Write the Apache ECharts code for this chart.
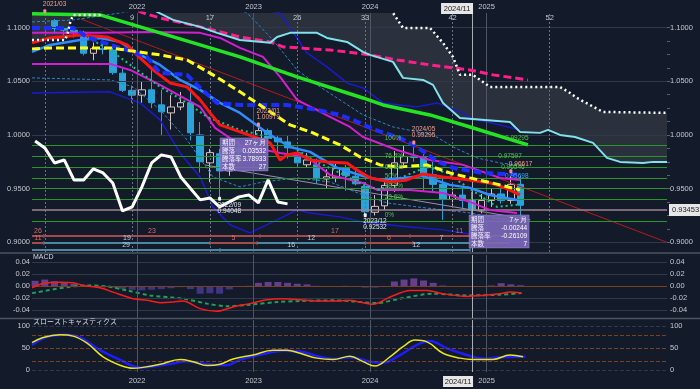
<!DOCTYPE html>
<html>
<head>
<meta charset="utf-8">
<script src="https://cdn.jsdelivr.net/npm/echarts@6.0.0/dist/echarts.min.js"></script>
<style>
html,body{margin:0;padding:0;background:#131a29;overflow:hidden}
#chart{width:700px;height:389px}
</style>
</head>
<body>
<div id="chart"></div>
<script>
// ================= DATA =================
// month index: 0 = 2021-01
const candleMonths = ['2021-04','2021-05','2021-06','2021-07','2021-08','2021-09','2021-10','2021-11','2021-12',
 '2022-01','2022-02','2022-03','2022-04','2022-05','2022-06','2022-07','2022-08','2022-09','2022-10','2022-11','2022-12',
 '2023-01','2023-02','2023-03','2023-04','2023-05','2023-06','2023-07','2023-08','2023-09','2023-10','2023-11','2023-12',
 '2024-01','2024-02','2024-03','2024-04','2024-05','2024-06','2024-07','2024-08','2024-09','2024-10','2024-11','2024-12',
 '2025-01','2025-02','2025-03','2025-04'];
const opens = [1.1065,1.0990,1.0975,1.0955,1.0760,1.0805,1.0790,1.0575,1.0415,
 1.0370,1.0420,1.0280,1.0205,1.0260,1.0300,1.0000,0.9740,0.9825,0.9665,0.9880,0.9840,
 0.9870,1.0040,0.9970,0.9935,0.9835,0.9722,0.9722,0.9590,0.9600,0.9690,0.9615,0.9520,
 0.9280,0.9340,0.9530,0.9740,0.9800,0.9790,0.9630,0.9540,0.9400,0.9440,0.9390,0.9300,
 0.9390,0.9450,0.9390,0.9540];
const highs = [1.1080,1.1010,1.1000,1.0970,1.0860,1.0880,1.0830,1.0620,1.0460,
 1.0500,1.0610,1.0420,1.0370,1.0400,1.0470,1.0120,0.9870,0.9870,0.9930,0.9950,0.9950,
 1.0098,1.0060,1.0000,0.9990,0.9900,0.9830,0.9780,0.9680,0.9730,0.9720,0.9700,0.9560,
 0.9440,0.9560,0.9850,0.9900,0.99295,0.9820,0.9750,0.9600,0.9530,0.9500,0.9470,0.9450,
 0.9500,0.9500,0.96617,0.9620];
const lows = [1.0950,1.0925,1.0905,1.0740,1.0695,1.0750,1.0560,1.0400,1.0300,
 1.0300,1.0250,0.9990,1.0050,1.0230,0.9950,0.9650,0.9560,0.94048,0.9620,0.9750,0.9780,
 0.9820,0.9860,0.9820,0.9780,0.9700,0.9700,0.9550,0.9500,0.9560,0.9480,0.9530,0.92532,
 0.9250,0.9300,0.9470,0.9720,0.9750,0.9480,0.9470,0.9210,0.9340,0.9320,0.9225,0.9270,
 0.9330,0.9360,0.9360,0.9220];
const closes = [1.0990,1.0975,1.0960,1.0760,1.0805,1.0795,1.0580,1.0415,1.0370,
 1.0420,1.0300,1.0215,1.0260,1.0300,1.0020,0.9750,0.9835,0.9665,0.9880,0.9840,0.9870,
 1.0040,0.9970,0.9935,0.9880,0.9740,0.9767,0.9590,0.9610,0.9690,0.9620,0.9545,0.9285,
 0.9335,0.9530,0.9740,0.9800,0.9790,0.9630,0.9540,0.9400,0.9440,0.9390,0.9300,0.9390,
 0.9450,0.9390,0.9540,0.93453];

// indicator lines: [month index, price]
const spanA = [[1.18,1.125],[13.5,1.122],[14.06,1.1145],[15.71,1.1071],[18.49,1.1006],[20.24,1.0950],[22.6,1.0884],[25.7,1.0857],[26.42,1.0912],[27.76,1.0950],[30.53,1.0950],[31.56,1.0903],[33.63,1.0866],[35.27,1.0773],[35.99,1.0745],[38.36,1.0680],[39.39,1.0531],[41.45,1.0512],[42.48,1.0466],[43.51,1.0298],[45.26,1.0158],[50.41,1.0121],[51.44,1.0028],[53.5,1.0019],[54.33,1.0047],[55.56,1.0000],[57.11,0.9981],[58.96,0.9926],[60.4,0.9786],[61.74,0.9749],[64.11,0.9739],[65.14,0.9749],[66.58,0.9749]];
const spanB = [[1.18,1.0884],[4.6,1.0884],[4.85,1.0950],[5.1,1.1043],[5.41,1.1117],[8.19,1.1117],[8.6,1.125],[38.0,1.125],[38.36,1.1136],[39.39,1.0996],[42.17,1.0996],[43.51,1.0857],[44.54,1.0726],[45.26,1.0559],[46.6,1.0559],[48.35,1.0447],[55.56,1.0447],[56.59,1.0391],[57.31,1.0344],[59.99,1.0214],[66.58,1.0205]];
const maGreen = [[1.18,1.1127],[8.19,1.1117],[14.37,1.0950],[19.52,1.0810],[22.6,1.0726],[28.48,1.0540],[35.27,1.0344],[37.33,1.0279],[42.17,1.0186],[46.29,1.0074],[52.26,0.9907]];
const maPink = [[11.0,1.1200],[12.62,1.1136],[14.37,1.1089],[18.49,1.1006],[22.6,1.0912],[25.7,1.0866],[27.04,1.0819],[31.87,1.0791],[35.99,1.0745],[38.77,1.0698],[42.17,1.0652],[46.29,1.0605],[48.66,1.0559],[52.26,1.0512]];
const maYellow = [[1.18,1.0801],[3.04,1.0810],[9.22,1.0810],[14.37,1.0745],[17.15,1.0698],[19.82,1.0559],[22.6,1.0401],[27.76,1.0093],[30.12,1.0019],[32.9,0.9907],[34.96,0.9795],[37.02,0.9721],[39.08,0.9702],[41.86,0.9721],[44.23,0.9646],[46.29,0.9600],[49.38,0.9535],[51.44,0.9488]];
const maBlueDash = [[1.18,1.0996],[5.41,1.0996],[6.85,1.0912],[9.22,1.0838],[11.59,1.0773],[13.03,1.0726],[14.37,1.0577],[17.15,1.0559],[18.49,1.0438],[20.24,1.0298],[22.6,1.0279],[27.45,1.0279],[30.53,1.0233],[32.9,1.0186],[34.24,1.0140],[36.5,1.0047],[39.08,0.9972],[40.83,0.9888],[43.0,0.9749],[44.54,0.9693],[47.63,0.9646],[51.44,0.9628]];
const maRed = [[1.18,1.0857],[3.04,1.0903],[6.13,1.0931],[8.91,1.0912],[10.97,1.0838],[12.31,1.0717],[13.65,1.0605],[15.4,1.0484],[17.15,1.0447],[18.49,1.0326],[19.52,1.0205],[20.55,1.0093],[22.6,1.0028],[24.36,0.9972],[25.7,0.9926],[26.73,0.9767],[27.45,0.9814],[28.48,0.9832],[29.81,0.9767],[31.56,0.9749],[33.63,0.9739],[34.65,0.9674],[35.99,0.9600],[38.05,0.9562],[39.8,0.9581],[41.45,0.9637],[43.51,0.9609],[46.29,0.9581],[48.35,0.9553],[49.9,0.9507],[51.44,0.9441]];
const maLightBlue = [[1.18,1.0773],[3.04,1.0838],[6.13,1.0884],[8.19,1.0903],[10.25,1.0866],[12.31,1.0745],[14.37,1.0652],[16.43,1.0512],[18.49,1.0419],[20.55,1.0298],[22.6,1.0205],[25.7,1.0000],[27.76,0.9888],[29.81,0.9842],[32.6,0.9693],[35.27,0.9618],[37.02,0.9581],[39.39,0.9600],[41.45,0.9618],[44.23,0.9535],[46.29,0.9507],[48.35,0.9441],[51.13,0.9395]];
const maMagentaUp = [[1.18,1.0950],[8.19,1.0950],[13.34,1.0959],[18.49,1.0950],[20.55,1.0903],[22.6,1.0810],[24.97,1.0726],[26.73,1.0540],[28.48,1.0326],[31.87,1.0168],[33.93,1.0074],[35.27,0.9981],[38.77,0.9860],[42.17,0.9767],[45.57,0.9721],[49.38,0.9600],[51.44,0.9581]];
const maMagentaLow = [[1.18,1.0661],[9.22,1.0661],[11.28,1.0605],[14.37,1.0466],[18.49,1.0261],[20.03,1.0065],[22.6,0.9907],[26.73,0.9832],[29.51,0.9795],[31.87,0.9628],[35.27,0.9553],[36.71,0.9488],[40.11,0.9488],[43.51,0.9460],[46.29,0.9376],[48.35,0.9302],[51.13,0.9274]];
const bandDarkUp = [[20.0,1.125],[26.73,1.1136],[29.51,1.0763],[31.56,1.0633],[33.63,1.0484],[35.27,1.0438],[37.33,1.0298],[40.83,1.0261],[42.89,1.0298],[45.57,1.0205],[46.29,1.0158],[49.38,1.0093],[51.44,1.0047]];
const bandDarkLow = [[1.18,1.0391],[9.22,1.0401],[12.31,1.0298],[14.37,1.0140],[16.43,0.9832],[18.49,0.9609],[19.82,0.9330],[21.6,0.9162],[23.64,0.9088],[26.42,0.9209],[28.48,0.9302],[29.81,0.9274],[32.9,0.9237],[35.27,0.9190],[39.08,0.9153],[43.51,0.9116],[46.29,0.9078],[49.38,0.9023],[51.96,0.9004]];
const bandThinUp = [[1.18,1.1052],[5.41,1.1071],[8.91,1.1117],[11.59,1.1154],[17.46,1.125],[23.33,1.1136],[26.0,1.0884],[28.48,1.0605],[30.84,1.0447],[32.9,1.0326],[35.27,1.0186],[38.36,1.0074],[42.48,1.0000],[44.75,0.9879],[47.01,0.9786],[49.38,0.9739],[51.13,0.9721]];
const bandThinLow = [[1.18,1.0531],[9.22,1.0512],[11.59,1.0447],[14.37,1.0233],[17.15,0.9953],[19.82,0.9609],[22.6,0.9516],[24.97,0.9562],[28.48,0.9600],[31.87,0.9562],[35.27,0.9441],[37.74,0.9367],[40.83,0.9330],[43.51,0.9302],[46.29,0.9274],[51.13,0.9190]];
const greenDotted = [[5.1,1.0996],[9.22,1.0791],[11.59,1.0633],[14.37,1.0447],[17.15,1.0298],[19.21,1.0168],[22.6,1.0047],[26.73,0.9953],[28.48,0.9860],[30.12,0.9767],[32.9,0.9646],[35.27,0.9535],[37.02,0.9488],[39.08,0.9600],[41.86,0.9702],[43.92,0.9646],[45.98,0.9516],[49.07,0.9330],[51.13,0.9349]];
const laggingSpan = [[1.5,0.9944],[2.5,0.9879],[3.5,0.9739],[4.5,0.9767],[5.5,0.9581],[6.5,0.9581],[7.5,0.9684],[8.5,0.9646],[9.5,0.9553],[10.5,0.9292],[11.5,0.9330],[12.5,0.9516],[13.5,0.9739],[14.5,0.9814],[15.5,0.9795],[16.5,0.9609],[18.5,0.9395],[19.5,0.9413],[20.5,0.9330],[21.5,0.9376],[22.5,0.9423],[23.5,0.9441],[24.5,0.9367],[25.5,0.9581],[26.5,0.9376],[27.5,0.9358]];
const trendRed = [[6.2,1.1080],[66.58,0.9000]];
const trendGrey = [[19.0,0.9720],[52.5,0.9210]];

// Fibonacci levels
const fibPct = ['0%','23.6%','38.2%','50%','61.8%','76.4%','100%'];
const fibLevels = [0.92100,0.93798,0.94849,0.95698,0.96546,0.97597,0.99295];

// count markers (top labels) and months
const countLabels = ['9','17','26','33','42','52'];
const countMonths = ['2021-12','2022-08','2023-05','2023-12','2024-09','2025-07'];
const originMonth = '2021-03';
const cursorMonth = '2024-11';
const cursorText = '2024/11';

// wave count rows: [fromMonthIdx, toMonthIdx, label, kind]
const countRow1 = [[-6,2.4,'26','r'],[2.4,24.66,'23','r'],[24.66,40.11,'17','r'],[40.11,50.3,'11','r']];
const countRow2 = [[-6,2.4,'11','r'],[2.4,19.52,'19','b'],[19.52,24.36,'5','r'],[24.36,35.5,'12','b'],[35.5,40.4,'6','r'],[40.4,46.3,'7','b'],[46.3,50.3,'5','r']];
const countRow3 = [[-6,20.55,'29','b'],[20.55,35.2,'16','b'],[35.2,46.3,'12','b']];

// pivot labels
const pivots = [
  {month:'2021-03', price:1.1151, date:'2021/03', value:'', side:'top'},
  {month:'2022-09', price:0.94048, date:'2022/09', value:'0.94048', side:'bottom'},
  {month:'2023-01', price:1.0098, date:'2023/01', value:'1.00979', side:'top'},
  {month:'2023-12', price:0.92532, date:'2023/12', value:'0.92532', side:'bottom'},
  {month:'2024-05', price:0.99295, date:'2024/05', value:'0.99295', side:'top'},
  {month:'2025-03', price:0.96617, date:'', value:'0.96617', side:'top'}
];
// info boxes
const infoBoxes = [
  {month:20.55, price:0.9972, rows:[['期間','27ヶ月'],['騰落','0.03532'],['騰落率','3.78933'],['本数','27']]},
  {month:46.2, price:0.9255, rows:[['期間','7ヶ月'],['騰落','-0.00244'],['騰落率','-0.26109'],['本数','7']]}
];

// MACD
const macdLine = [[1.18,-0.0027],[2.32,0.0045],[4.07,0.0067],[5.41,0.0057],[6.44,0.0012],[8.19,-0.0027],[9.53,-0.010],[11.59,-0.021],[13.03,-0.0238],[14.37,-0.0277],[15.71,-0.0267],[16.74,-0.025],[18.49,-0.0377],[20.24,-0.0422],[21.89,-0.035],[23.64,-0.0293],[25.38,-0.0227],[27.04,-0.021],[28.79,-0.0227],[30.53,-0.025],[32.18,-0.025],[33.93,-0.0238],[34.96,-0.0267],[36.3,-0.0305],[38.05,-0.0183],[40.11,-0.0072],[41.86,-0.0072],[43.51,-0.0127],[45.98,-0.0172],[47.63,-0.0155],[49.38,-0.0127],[50.41,-0.010],[51.6,-0.0117]];
const macdSignal = [[1.18,-0.0117],[4.8,-0.0017],[6.85,0.0012],[8.91,-0.0005],[10.97,-0.0072],[13.34,-0.0155],[16.74,-0.021],[19.21,-0.0293],[21.27,-0.0338],[23.64,-0.031],[26.42,-0.0267],[28.79,-0.025],[32.18,-0.0238],[33.93,-0.025],[34.96,-0.0267],[36.71,-0.0283],[39.08,-0.021],[42.48,-0.0127],[45.98,-0.0155],[49.38,-0.0143],[51.6,-0.0117]];
const histStartMonth = '2021-02';
const macdHist = [0.009,0.011,0.0083,0.0067,0.004,0.001,0.0,-0.0015,-0.0027,-0.0045,-0.006,-0.007,-0.006,-0.005,-0.0035,-0.0017,-0.005,-0.0127,-0.012,-0.0127,-0.0055,-0.0015,0.0005,0.0055,0.007,0.007,0.0055,0.004,0.003,0.0005,0.0,-0.0005,0.0005,-0.001,-0.0025,-0.0025,0.0,0.0078,0.011,0.013,0.0095,0.0055,0.001,-0.001,-0.0015,-0.0015,0.0,0.001,0.005,0.003,0.0015];

// Slow stochastics
const stochK = [[1.18,62],[2.32,74],[4.07,80],[5.41,77],[6.85,61],[8.5,30],[10.25,11],[11.59,4],[12.62,6],[14.37,13],[16.43,24],[17.77,19],[19.21,10],[20.55,13],[21.89,25],[23.94,34],[26.0,45],[27.45,45],[28.79,38],[30.53,27],[32.18,24],[33.93,31],[35.27,19],[36.5,9],[38.05,30],[39.39,53],[40.63,68],[41.86,64],[43.51,38],[45.26,27],[46.6,24],[48.66,24],[50.41,34],[51.75,30]];
const stochD = [[1.18,57],[3.04,77],[4.79,80],[6.13,74],[8.19,45],[10.25,23],[12.31,6],[13.65,8],[15.71,15],[17.15,20],[19.21,13],[21.27,11],[22.6,23],[25.38,38],[27.04,44],[28.79,42],[30.84,30],[32.18,25],[33.93,29],[35.99,19],[37.33,17],[39.08,34],[40.83,57],[42.17,66],[43.92,49],[45.98,34],[47.63,26],[49.38,29],[51.13,30],[52.0,30]];

// axis ticks
const yearMarks = [12,24,36,48];
const priceTicks = [0.90,0.95,1.00,1.05,1.10];
const priceMinorTicks = [0.9,0.9125,0.925,0.9375,0.95,0.9625,0.975,0.9875,1.0,1.0125,1.025,1.0375,1.05,1.0625,1.075,1.0875,1.1];
const macdTicks = [-0.04,-0.02,0,0.02,0.04];
const stochTicks = [0,50,100];

// ================= LAYOUT / STYLE =================
const M0 = 2021;
function mIdx(s){const p=s.split('-').map(Number);return (p[0]-M0)*12+(p[1]-1);}
const X_MIN = 1.18, X_MAX = 66.58;
const Y_MIN = 0.891, Y_MAX = 1.1135;
const MACD_MIN = -0.0534, MACD_MAX = 0.0522;
const ST_MIN = -4.5, ST_MAX = 113.6;
const ROW_LEVELS = [0.9059, 0.8994, 0.8929];
const FONT = '"Liberation Sans", Arial, sans-serif';
const JFONT = '"Noto Sans CJK JP", sans-serif';
const TXT = '#c4c8d0';
const GRIDC = '#313948';
const BROWN = '#7a4026';
const YEARC = '#4e5666';

const candleData = candleMonths.map((s,i)=>[mIdx(s)+0.5, opens[i], closes[i], lows[i], highs[i]]);
const cursorX = mIdx(cursorMonth)+0.5;
const countX = countMonths.map(s=>mIdx(s)+0.5);

const axisLbl = {color:TXT, fontSize:7.5, fontFamily:FONT};
function xAx(grid, extra){
  return Object.assign({gridIndex:grid, type:'value', min:X_MIN, max:X_MAX, axisLine:{show:false}, axisTick:{show:false}, splitLine:{show:false}}, extra);
}
function yAx(grid, pos, min, max, ticks, fmt, extra){
  return Object.assign({gridIndex:grid, type:'value', position:pos, min:min, max:max, axisLine:{show:false}, axisTick:{show:false}, splitLine:{show:false},
    axisLabel:Object.assign({}, axisLbl, {customValues:ticks, formatter:fmt, margin: pos==='left'?2:3})}, extra||{});
}
function ml(data, z){
  return {silent:true, symbol:['none','none'], label:{show:false}, animation:false, data:data, z:z};
}
function helper(xi, yi, anchor, markLine, z){
  return {type:'line', xAxisIndex:xi, yAxisIndex:yi, data:[anchor], showSymbol:false, symbol:'none', lineStyle:{opacity:0}, silent:true, z:z, markLine:markLine};
}
function lineS(data, color, width, type, z, smooth){
  return {type:'line', xAxisIndex:0, yAxisIndex:0, data:data, showSymbol:false, symbol:'none', smooth:smooth||false, silent:true, z:z||5,
    lineStyle:{color:color, width:width, type:type||'solid', cap:'butt'}};
}

// vertical lines
const yearLineData = yearMarks.map(v=>({xAxis:v, lineStyle:{color:YEARC, width:1, type:'solid'}}));
const countLineData = [mIdx(originMonth)+0.5].concat(countX).map(v=>({xAxis:v, lineStyle:{color:'#6a7180', width:1, type:[2,2]}}));
const cursorLine = {xAxis:cursorX, lineStyle:{color:'#a8adb6', width:1, type:'solid'}};

// cloud polygon
function renderCloud(params, api){
  const pts = spanA.map(d=>api.coord(d)).concat(spanB.slice().reverse().map(d=>api.coord(d)));
  return {type:'polygon', shape:{points:pts}, style:{fill:'#2a303c'}};
}

// annotations in main grid
function renderAnn(params, api){
  const kids = [];
  const f = (s)=> s+'px '+FONT;
  // count rows
  [countRow1, countRow2, countRow3].forEach((row, ri)=>{
    row.forEach(seg=>{
      const a = Math.max(seg[0], X_MIN), b = seg[1];
      const p1 = api.coord([a, ROW_LEVELS[ri]]), p2 = api.coord([b, ROW_LEVELS[ri]]);
      const col = seg[3]==='r' ? '#a34a4a' : '#4f86a0';
      kids.push({type:'line', shape:{x1:p1[0], y1:p1[1], x2:p2[0], y2:p2[1]}, style:{stroke:col, lineWidth:2}});
      kids.push({type:'line', shape:{x1:p2[0], y1:p2[1]-2, x2:p2[0], y2:p2[1]+2}, style:{stroke:col, lineWidth:1}});
      kids.push({type:'text', x:(p1[0]+p2[0])/2, y:p1[1]-1, style:{text:seg[2], fill: seg[3]==='r' ? '#d86a6a' : '#b8d0e0', font:f(7), align:'center', verticalAlign:'bottom'}});
    });
  });
  // fib labels
  fibLevels.forEach((v,i)=>{
    const p = api.coord([37.5, v]);
    kids.push({type:'text', x:p[0], y:p[1]-1, style:{text:fibPct[i], fill:'#4ec24e', font:f(6.5), align:'left', verticalAlign:'bottom'}});
  });
  const fp1 = api.coord([49.9, fibLevels[6]]);
  kids.push({type:'text', x:fp1[0], y:fp1[1]-1, style:{text:fibLevels[6].toFixed(5), fill:'#4ec24e', font:f(6.5), align:'left', verticalAlign:'bottom'}});
  const fp2 = api.coord([49.2, fibLevels[5]]);
  kids.push({type:'text', x:fp2[0], y:fp2[1]-1, style:{text:fibLevels[5].toFixed(5), fill:'#4ec24e', font:f(6.5), align:'left', verticalAlign:'bottom'}});
  const fp3 = api.coord([49.5, fibLevels[4]]);
  kids.push({type:'text', x:fp3[0], y:fp3[1]-1, style:{text:fibLevels[4].toFixed(5), fill:'#4ec24e', font:f(6.5), align:'left', verticalAlign:'bottom'}});
  const fp4 = api.coord([49.9, fibLevels[3]]);
  kids.push({type:'text', x:fp4[0], y:fp4[1]-1, style:{text:fibLevels[3].toFixed(5), fill:'#3aa6ff', font:f(6.5), align:'left', verticalAlign:'bottom'}});
  // pivots
  pivots.forEach(pv=>{
    const p = api.coord([mIdx(pv.month)+0.5, pv.price]);
    const top = pv.side==='top';
    const col = top ? '#f0a08c' : '#dfe6f0';
    kids.push({type:'rect', shape:{x:p[0]-1.5, y:p[1]-2, width:3, height:4, r:1}, style:{fill: top ? '#ff8a8a' : '#f0f0f0'}});
    const x0 = p[0]-2;
    if (top){
      if (pv.value) kids.push({type:'text', x:x0, y:p[1]-4, style:{text:pv.value, fill:col, font:f(6.5), align:'left', verticalAlign:'bottom'}});
      if (pv.date) kids.push({type:'text', x:x0, y:p[1]-(pv.value?10:4), style:{text:pv.date, fill:col, font:f(6.5), align:'left', verticalAlign:'bottom'}});
    } else {
      kids.push({type:'text', x:x0, y:p[1]+3, style:{text:pv.date, fill:col, font:f(6.5), align:'left', verticalAlign:'top'}});
      kids.push({type:'text', x:x0, y:p[1]+9, style:{text:pv.value, fill:col, font:f(6.5), align:'left', verticalAlign:'top'}});
    }
  });
  // info boxes
  const boxW = [48, 60];
  infoBoxes.forEach((b,bi)=>{
    const p = api.coord([b.month, b.price]);
    const rh = 8, w = boxW[bi];
    kids.push({type:'rect', shape:{x:p[0], y:p[1], width:w, height:rh*b.rows.length+1}, style:{fill:'rgba(124,104,186,0.9)', stroke:'rgba(160,145,215,0.9)', lineWidth:0.5}});
    b.rows.forEach((r,i)=>{
      const yy = p[1]+1+rh*i+rh/2;
      kids.push({type:'text', x:p[0]+2, y:yy, style:{text:r[0], fill:'#f2efff', font:'6.5px '+JFONT, align:'left', verticalAlign:'middle'}});
      kids.push({type:'text', x:p[0]+w-2, y:yy, style:{text:r[1], fill:'#ffffff', font:'6.5px '+FONT, align:'right', verticalAlign:'middle'}});
    });
  });
  // cursor label top
  const c = api.coord([cursorX, Y_MAX]);
  kids.push({type:'rect', shape:{x:c[0]-31, y:c[1]-10, width:32, height:11}, style:{fill:'#e6e6e6'}});
  kids.push({type:'text', x:c[0]-15, y:c[1]-4.5, style:{text:cursorText, fill:'#222', font:f(7.5), align:'center', verticalAlign:'middle'}});
  return {type:'group', children:kids};
}
function renderCursorBottom(params, api){
  const c = api.coord([cursorX, ST_MIN]);
  return {type:'group', children:[
    {type:'rect', shape:{x:c[0]-29, y:c[1]+4, width:30, height:11}, style:{fill:'#e6e6e6'}},
    {type:'text', x:c[0]-14, y:c[1]+9.5, style:{text:cursorText, fill:'#222', font:'7.5px '+FONT, align:'center', verticalAlign:'middle'}}
  ]};
}

const option = {
  backgroundColor:'#131a29',
  animation:false,
  grid:[
    {left:32, right:33, top:13, height:239},
    {left:32, right:33, top:255, height:63},
    {left:32, right:33, top:320, height:52}
  ],
  xAxis:[
    xAx(0, {position:'top', axisLabel:Object.assign({}, axisLbl, {customValues:yearMarks, formatter:v=>String(M0+Math.round(v/12)), margin:2})}),
    xAx(0, {position:'top', axisLabel:Object.assign({}, axisLbl, {inside:true, margin:1, customValues:countX, formatter:v=>{let k=0; countX.forEach((c,i)=>{if(Math.abs(c-v)<0.01)k=i;}); return countLabels[k];}})}),
    xAx(1, {axisLabel:{show:false}}),
    xAx(2, {position:'bottom', axisLabel:Object.assign({}, axisLbl, {customValues:yearMarks, formatter:v=>String(M0+Math.round(v/12)), margin:5})})
  ],
  yAxis:[
    yAx(0,'left',Y_MIN,Y_MAX,priceTicks,v=>v.toFixed(4)),
    yAx(0,'right',Y_MIN,Y_MAX,priceTicks,v=>v.toFixed(4),{axisTick:{show:true, customValues:priceMinorTicks, length:3, lineStyle:{color:'#5a6170'}}}),
    yAx(1,'left',MACD_MIN,MACD_MAX,macdTicks,v=>v.toFixed(2)),
    yAx(1,'right',MACD_MIN,MACD_MAX,macdTicks,v=>v.toFixed(2)),
    yAx(2,'left',ST_MIN,ST_MAX,stochTicks,v=>String(v)),
    yAx(2,'right',ST_MIN,ST_MAX,stochTicks,v=>String(v))
  ],
  graphic:[
    {type:'line', shape:{x1:0,y1:253,x2:700,y2:253}, style:{stroke:'#4c5361', lineWidth:1.5}, silent:true},
    {type:'line', shape:{x1:0,y1:318.5,x2:700,y2:318.5}, style:{stroke:'#4c5361', lineWidth:1.5}, silent:true},
    {type:'text', left:33, top:254, style:{text:'MACD', fill:'#d4d8e0', font:'7px '+FONT}, silent:true},
    {type:'text', left:33, top:318, style:{text:'スローストキャスティクス', fill:'#d4d8e0', font:'7px '+JFONT}, silent:true}
  ],
  series:[
    {type:'custom', xAxisIndex:0, yAxisIndex:0, data:[[30,1.0]], renderItem:renderCloud, clip:true, silent:true, z:0},
    helper(0,0,[30,1.0], ml(priceTicks.map(v=>({yAxis:v, lineStyle:{color:GRIDC, width:1, type:'solid'}}))), 1),
    helper(0,0,[30,1.0], ml(yearLineData.concat(countLineData)), 1),
    helper(0,0,[30,1.0], ml(fibLevels.map(v=>({yAxis:v, lineStyle:{color:'#2a962a', width:1, type:'solid'}}))), 2),
    {type:'candlestick', xAxisIndex:0, yAxisIndex:0, data:candleData, encode:{x:0, y:[1,2,3,4]}, barWidth:7, silent:true, z:3,
      itemStyle:{color:'rgba(0,0,0,0)', color0:'#2aa3d8', borderColor:'#d6c0c0', borderColor0:'#2aa3d8', borderWidth:1}},
    lineS(trendRed,'#b31a1a',1,'solid',4),
    lineS(trendGrey,'#9a8cb0',1,'solid',4),
    lineS(bandDarkUp,'#1a1ad0',1.5,'solid',4),
    lineS(bandDarkLow,'#1a1ad0',1.5,'solid',4),
    lineS(bandThinUp,'#2e86c8',1,[3,2],4),
    lineS(bandThinLow,'#2e86c8',1,[3,2],4),
    lineS(maMagentaUp,'#d21fd2',2,'solid',5),
    lineS(maMagentaLow,'#d21fd2',2,'solid',5),
    lineS(greenDotted,'#21c07d',2,[2,3],5),
    lineS(maLightBlue,'#2f8dff',2.5,'solid',5),
    lineS(maRed,'#ff1414',3,'solid',6),
    lineS(maBlueDash,'#1b2dff',4,[8,4],6),
    lineS(maYellow,'#ffff1a',3,[8,4],6),
    lineS(maPink,'#ff1f8a',3,[8,4],6),
    lineS(maGreen,'#22e422',3.5,'solid',6),
    lineS(spanA,'#7fe2ec',2,'solid',6),
    lineS(spanB,'#ffffff',2.5,[2,3],6),
    lineS(laggingSpan,'#ffffff',3,'solid',7),
    helper(0,0,[30,1.0], {silent:true, symbol:['none','none'], animation:false,
      data:[{yAxis:closes[closes.length-1], lineStyle:{color:'#9c8690', width:1.5, type:'solid'},
        label:{show:true, position:'end', distance:2, formatter:closes[closes.length-1].toFixed(5), color:'#222', backgroundColor:'#e6e6e6', padding:[2,3], fontSize:7.5, fontFamily:FONT}}]}, 4),
    helper(0,0,[30,1.0], ml([cursorLine]), 8),
    {type:'custom', xAxisIndex:0, yAxisIndex:0, data:[[30,1.0]], renderItem:renderAnn, clip:false, silent:true, z:20},

    // MACD panel
    helper(2,2,[30,0], ml(macdTicks.map(v=>({yAxis:v, lineStyle:{color: v===0?BROWN:GRIDC, width:1, type:'solid'}}))), 1),
    helper(2,2,[30,0], ml(yearLineData.concat([cursorLine])), 2),
    {type:'bar', xAxisIndex:2, yAxisIndex:2, barWidth:7, silent:true, z:3,
      data:macdHist.map((v,i)=>[mIdx(histStartMonth)+i+0.5, v]),
      itemStyle:{color:(p)=> p.value[1]>=0 ? 'rgba(112,66,150,0.9)' : 'rgba(70,56,140,0.9)'}},
    {type:'line', xAxisIndex:2, yAxisIndex:2, data:macdSignal, showSymbol:false, symbol:'none', smooth:0.3, silent:true, z:4, lineStyle:{color:'#1ea05a', width:2, type:[4,3]}},
    {type:'line', xAxisIndex:2, yAxisIndex:2, data:macdLine, showSymbol:false, symbol:'none', smooth:0.3, silent:true, z:5, lineStyle:{color:'#ff1a1a', width:1.5}},

    // Stochastics panel
    helper(3,4,[30,50], ml([0,100].map(v=>({yAxis:v, lineStyle:{color:GRIDC, width:1}})).concat([20,50,80].map(v=>({yAxis:v, lineStyle:{color:BROWN, width:1}})))), 1),
    helper(3,4,[30,50], ml(yearLineData.concat([cursorLine])), 2),
    {type:'line', xAxisIndex:3, yAxisIndex:4, data:stochD, showSymbol:false, symbol:'none', smooth:0.4, silent:true, z:4, lineStyle:{color:'#1c1cff', width:2.5}},
    {type:'line', xAxisIndex:3, yAxisIndex:4, data:stochK, showSymbol:false, symbol:'none', smooth:0.4, silent:true, z:5, lineStyle:{color:'#e6e61a', width:1.5}},
    {type:'custom', xAxisIndex:3, yAxisIndex:4, data:[[30,50]], renderItem:renderCursorBottom, clip:false, silent:true, z:20}
  ]
};
const chart = echarts.init(document.getElementById('chart'), null, {renderer:'canvas'});
chart.setOption(option);
</script>
</body>
</html>
